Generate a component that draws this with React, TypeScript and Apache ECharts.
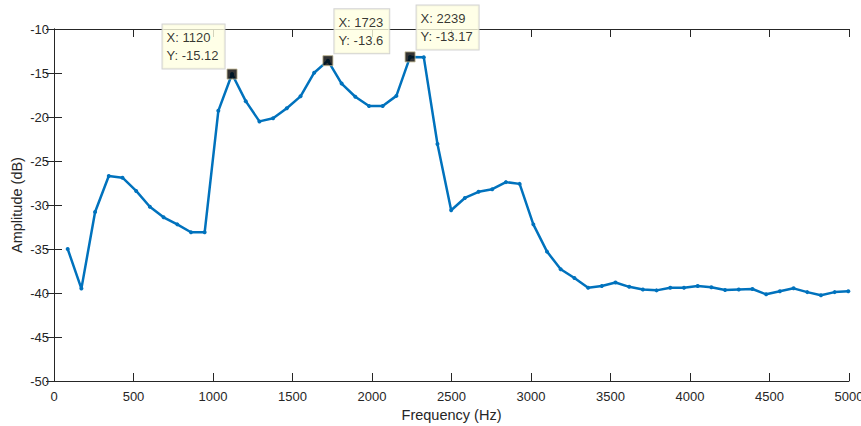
import React, { useEffect, useRef } from "react";
import * as echarts from "echarts";

const freqs = [
  86.1, 172.3, 258.4, 344.5, 430.7, 516.8, 602.9, 689.1, 775.2, 861.3,
  947.5, 1033.6, 1119.7, 1205.9, 1292.0, 1378.1, 1464.3, 1550.4, 1636.5, 1722.7,
  1808.8, 1894.9, 1981.1, 2067.2, 2153.3, 2239.5, 2325.6, 2411.7, 2497.9, 2584.0,
  2670.1, 2756.3, 2842.4, 2928.5, 3014.6, 3100.8, 3186.9, 3273.0, 3359.2, 3445.3,
  3531.4, 3617.6, 3703.7, 3789.8, 3876.0, 3962.1, 4048.2, 4134.4, 4220.5, 4306.6,
  4392.8, 4478.9, 4565.0, 4651.2, 4737.3, 4823.4, 4909.6, 4995.7,
];

const amps = [
  -35.0, -39.5, -30.8, -26.7, -26.9, -28.4, -30.2, -31.4, -32.2, -33.1,
  -33.1, -19.3, -15.12, -18.2, -20.5, -20.15, -19.0, -17.65, -14.97, -13.6,
  -16.2, -17.7, -18.75, -18.75, -17.6, -13.17, -13.2, -23.07, -30.6, -29.2,
  -28.5, -28.2, -27.4, -27.6, -32.2, -35.3, -37.3, -38.3, -39.4, -39.2,
  -38.8, -39.3, -39.6, -39.7, -39.4, -39.4, -39.2, -39.35, -39.66, -39.6,
  -39.55, -40.15, -39.8, -39.47, -39.9, -40.26, -39.9, -39.8,
];

const tipFreqs = [1119.7, 1722.7, 2239.5];
const tipAmps = [-15.12, -13.6, -13.17];
const tipXText = ["1120", "1723", "2239"];
const tipYText = ["-15.12", "-13.6", "-13.17"];

const xTicks = { min: 0, max: 5000, interval: 500 };
const yTicks = { min: -50, max: -10, interval: 5 };

const FONT = "Liberation Sans, Arial, Helvetica, sans-serif";
const AXIS_COLOR = "#262626";

export default function App() {
  const ref = useRef<HTMLDivElement>(null);

  useEffect(() => {
    if (!ref.current) return;
    const chart = echarts.init(ref.current, undefined, { renderer: "svg" });

    const tipPositions: [number, number][] = [
      [-64, -44],
      [12, -46],
      [12, -46],
    ];

    const baseAxis = {
      type: "value" as const,
      axisLine: { show: true, lineStyle: { color: AXIS_COLOR, width: 1 } },
      axisTick: { show: true, inside: true, length: 8, lineStyle: { color: AXIS_COLOR, width: 1 } },
      splitLine: { show: false },
    };

    chart.setOption({
      animation: false,
      textStyle: { fontFamily: FONT },
      grid: {
        left: 54,
        top: 29,
        right: 12,
        bottom: 45,
        containLabel: false,
        outerBoundsMode: "none",
      },
      xAxis: [
        {
          ...baseAxis,
          position: "bottom",
          min: xTicks.min,
          max: xTicks.max,
          interval: xTicks.interval,
          name: "Frequency (Hz)",
          nameLocation: "middle",
          nameGap: 26,
          nameTextStyle: { fontSize: 14.5, color: AXIS_COLOR, fontFamily: FONT },
          axisLabel: { fontSize: 13, color: AXIS_COLOR, margin: 9, fontFamily: FONT, formatter: (v: number) => String(v) },
        },
        {
          ...baseAxis,
          position: "top",
          min: xTicks.min,
          max: xTicks.max,
          interval: xTicks.interval,
          axisLabel: { show: false },
        },
      ],
      yAxis: [
        {
          ...baseAxis,
          position: "left",
          min: yTicks.min,
          max: yTicks.max,
          interval: yTicks.interval,
          name: "Amplitude (dB)",
          nameLocation: "middle",
          nameGap: 30,
          nameMoveOverlap: false,
          nameTextStyle: { fontSize: 14.5, color: AXIS_COLOR, fontFamily: FONT },
          axisLabel: { fontSize: 13, color: AXIS_COLOR, margin: 5, fontFamily: FONT, formatter: (v: number) => String(v) },
        },
        {
          ...baseAxis,
          position: "right",
          min: yTicks.min,
          max: yTicks.max,
          interval: yTicks.interval,
          axisLabel: { show: false },
        },
      ],
      series: [
        {
          type: "line",
          data: freqs.map((f, i) => [f, amps[i]]),
          symbol: "circle",
          symbolSize: 4,
          showAllSymbol: true,
          lineStyle: { color: "#0072BD", width: 2.5 },
          itemStyle: { color: "#0072BD" },
          z: 2,
        },
        {
          type: "scatter",
          data: tipFreqs.map((f, i) => ({
            value: [f, tipAmps[i]],
            label: {
              show: true,
              position: tipPositions[i],
              formatter: `X: ${tipXText[i]}\nY: ${tipYText[i]}`,
            },
          })),
          symbol: "rect",
          symbolSize: 10,
          itemStyle: { color: "#000000", borderColor: "#BFB58F", borderWidth: 1 },
          label: {
            show: true,
            fontSize: 13,
            lineHeight: 18,
            color: "#000000",
            fontFamily: FONT,
            backgroundColor: "#FFFFE1",
            borderColor: "#C8C8C8",
            borderWidth: 1,
            padding: [4, 6, 4, 4],
          },
          z: 5,
        },
      ],
    });

    return () => chart.dispose();
  }, []);

  return (
    <div
      ref={ref}
      style={{ position: "fixed", left: 0, top: 0, width: 861, height: 426, background: "#ffffff" }}
    />
  );
}
